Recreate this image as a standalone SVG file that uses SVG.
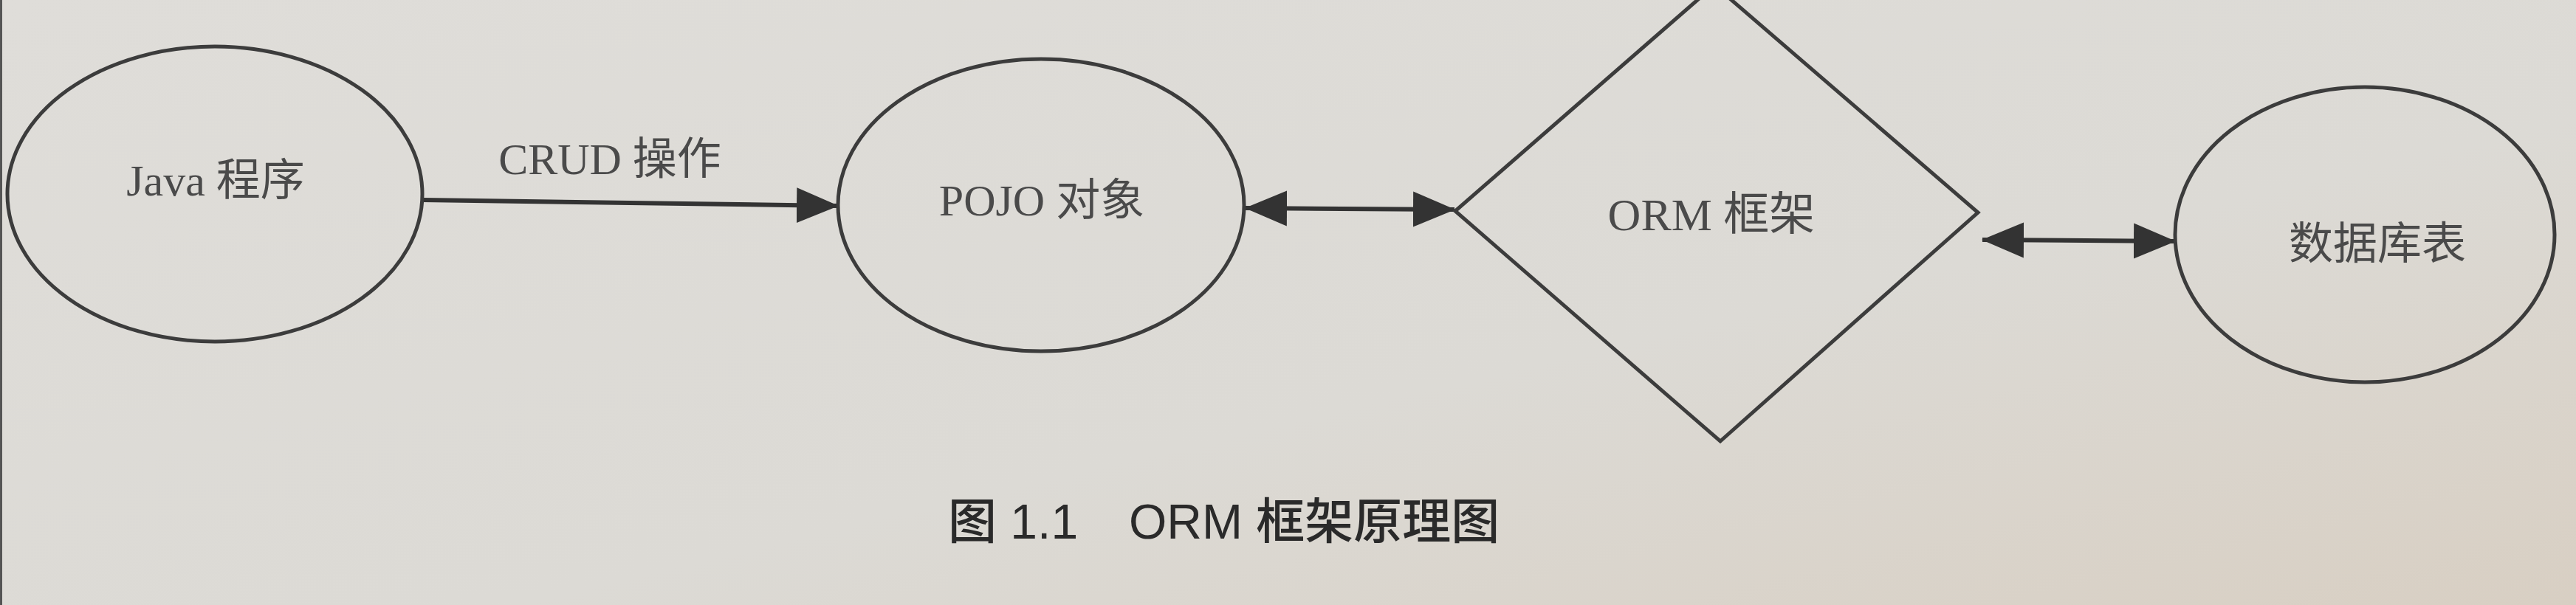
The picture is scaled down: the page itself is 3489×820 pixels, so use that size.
<svg xmlns="http://www.w3.org/2000/svg" width="3489" height="820" viewBox="0 0 3489 820">
<defs>
<linearGradient id="paper" x1="0" y1="0" x2="1" y2="1">
<stop offset="0" stop-color="#dfddd9"/>
<stop offset="0.6" stop-color="#dcdad5"/>
<stop offset="1" stop-color="#d8cfc3"/>
</linearGradient>
<marker id="head" markerUnits="userSpaceOnUse" markerWidth="58" markerHeight="50" viewBox="0 0 58 50" refX="56" refY="25" orient="auto-start-reverse">
<path d="M0,1 L57,25 L0,49 Z" fill="#333"/>
</marker>
<style>
.node { fill: none; stroke: #3c3c3c; stroke-width: 5; }
.lbl { font-family: "Liberation Serif", "Noto Sans CJK SC", serif; font-size: 60px; text-anchor: middle; fill: #4a4a4a; }
.conn { stroke: #333; stroke-width: 6; fill: none; }
.cap { font-family: "Liberation Sans", "Noto Sans CJK SC", sans-serif; font-size: 66px; fill: #2a2a2a; font-weight: 500; }
</style>
</defs>
<rect x="0" y="0" width="3489" height="820" fill="url(#paper)"/>
<rect x="0" y="0" width="3" height="820" fill="#555"/>

<g id="connectors">
<line class="conn" x1="573" y1="271" x2="1135" y2="279" marker-end="url(#head)"/>
<line class="conn" x1="1687" y1="282" x2="1970" y2="284" marker-start="url(#head)" marker-end="url(#head)"/>
<line class="conn" x1="2685" y1="325" x2="2946" y2="327" marker-start="url(#head)" marker-end="url(#head)"/>
<text class="lbl" x="826" y="236" fill="#4a4a4a">CRUD 操作</text>
</g>

<g id="java">
<ellipse class="node" cx="291" cy="263" rx="281" ry="200" stroke="#555"/>
<text class="lbl" x="292" y="265">Java 程序</text>
</g>

<g id="pojo">
<ellipse class="node" cx="1410" cy="278" rx="275" ry="198"/>
<text class="lbl" x="1411" y="292">POJO 对象</text>
</g>

<g id="orm">
<polygon class="node" points="2322,-20 2679,288 2330,598 1971,286"/>
<text class="lbl" x="2318" y="312" style="font-size:62px" fill="#3a3a3a">ORM 框架</text>
</g>

<g id="db">
<ellipse class="node" cx="3203" cy="318" rx="257" ry="200"/>
<text class="lbl" x="3220" y="351" fill="#777">数据库表</text>
</g>

<g id="caption">
<text class="cap" y="730"><tspan x="1284">图 1.1</tspan><tspan x="1529">ORM 框架原理图</tspan></text>
</g>
</svg>
